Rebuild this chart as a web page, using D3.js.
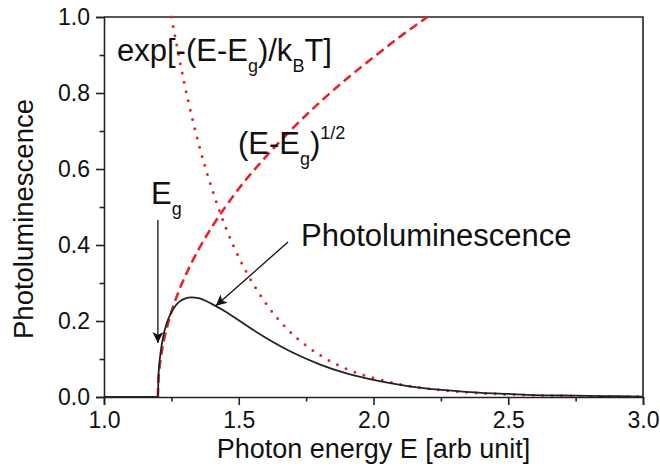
<!DOCTYPE html>
<html>
<head>
<meta charset="utf-8">
<script src="https://cdn.jsdelivr.net/npm/d3@7"></script>
<style>
  body { margin: 0; background: #fff; }
  text { font-family: "Liberation Sans", Arial, Helvetica, sans-serif; fill: #111; }
</style>
</head>
<body>
<svg id="chart" width="660" height="475"></svg>
<script>
// Photoluminescence spectrum (solid black)
const energyPL = [1.00, 1.20, 1.202, 1.205, 1.21, 1.22, 1.23, 1.24, 1.26, 1.28, 1.30, 1.325, 1.35, 1.40, 1.45, 1.50, 1.55, 1.60, 1.70, 1.80, 1.90, 2.00, 2.10, 2.20, 2.30, 2.40, 2.50, 2.60, 2.70, 2.80, 2.90, 3.00];
const valuesPL = [0, 0, 0.054, 0.085, 0.117, 0.160, 0.188, 0.208, 0.235, 0.251, 0.259, 0.262, 0.260, 0.245, 0.225, 0.202, 0.178, 0.156, 0.117, 0.086, 0.062, 0.045, 0.032, 0.022, 0.016, 0.011, 0.008, 0.005, 0.004, 0.003, 0.002, 0.001];

// Density of states (E-Eg)^1/2 (red dashed)
const energySqrt = [1.20, 1.202, 1.205, 1.21, 1.22, 1.24, 1.26, 1.28, 1.30, 1.35, 1.40, 1.45, 1.50, 1.60, 1.70, 1.80, 1.90, 2.00, 2.10, 2.20];
const valuesSqrt = [0, 0.045, 0.071, 0.100, 0.141, 0.200, 0.245, 0.283, 0.316, 0.387, 0.447, 0.500, 0.548, 0.632, 0.707, 0.775, 0.837, 0.894, 0.949, 1.000];

// Boltzmann factor exp[-(E-Eg)/kBT] (red dotted)
const energyExp = [1.25, 1.30, 1.35, 1.40, 1.45, 1.50, 1.60, 1.70, 1.80, 1.90, 2.00, 2.10, 2.20, 2.30, 2.40, 2.50, 2.60, 2.70, 2.80, 2.90, 3.00];
const valuesExp = [1.000, 0.819, 0.670, 0.549, 0.449, 0.368, 0.247, 0.165, 0.111, 0.074, 0.050, 0.033, 0.022, 0.015, 0.010, 0.007, 0.0045, 0.003, 0.002, 0.0014, 0.0009];

const xTicks = [1.0, 1.5, 2.0, 2.5, 3.0];
const xMinorTicks = [1.25, 1.75, 2.25, 2.75];
const yTicks = [0.0, 0.2, 0.4, 0.6, 0.8, 1.0];
const yMinorTicks = [0.1, 0.3, 0.5, 0.7, 0.9];
const bandGap = 1.2;

const svg = d3.select("#chart");
const plotLeft = 104, plotRight = 643, plotTop = 17, plotBottom = 397;

const x = d3.scaleLinear().domain([1.0, 3.0]).range([plotLeft, plotRight]);
const y = d3.scaleLinear().domain([0, 1.0]).range([plotBottom, plotTop]);

const RED = "#e3262b";

const defs = svg.append("defs");
defs.append("clipPath").attr("id", "plot-clip")
  .append("rect").attr("x", plotLeft).attr("y", plotTop - 2)
  .attr("width", plotRight - plotLeft).attr("height", plotBottom - plotTop + 2);

// Axes
const fmt = d3.format(".1f");
svg.append("g").attr("transform", `translate(0,${plotBottom})`)
  .call(d3.axisBottom(x).tickValues(xTicks).tickFormat(fmt).tickSize(8).tickPadding(7));
svg.append("g").attr("transform", `translate(0,${plotBottom})`)
  .call(d3.axisBottom(x).tickValues(xMinorTicks).tickFormat("").tickSize(4.5))
  .select(".domain").remove();
svg.append("g").attr("transform", `translate(${plotLeft},0)`)
  .call(d3.axisLeft(y).tickValues(yTicks).tickFormat(fmt).tickSize(8).tickPadding(6));
svg.append("g").attr("transform", `translate(${plotLeft},0)`)
  .call(d3.axisLeft(y).tickValues(yMinorTicks).tickFormat("").tickSize(4.5))
  .select(".domain").remove();

svg.selectAll(".tick line").attr("stroke", "#222").attr("stroke-width", 1.6);
svg.selectAll(".domain").attr("stroke", "#222").attr("stroke-width", 1.6);
svg.selectAll(".tick text").attr("font-size", 23).attr("fill", "#111")
  .style("font-family", '"Liberation Sans", Arial, sans-serif');

// Frame (top and right edges)
svg.append("path")
  .attr("d", `M${plotLeft},${plotTop}H${plotRight}V${plotBottom}`)
  .attr("fill", "none").attr("stroke", "#222").attr("stroke-width", 1.6);

// Curves
const plot = svg.append("g").attr("clip-path", "url(#plot-clip)");
const line = d3.line().x(d => x(d[0])).y(d => y(d[1])).curve(d3.curveMonotoneX);

plot.append("path")
  .datum(d3.zip(energySqrt, valuesSqrt))
  .attr("d", line).attr("fill", "none")
  .attr("stroke", RED).attr("stroke-width", 2.6)
  .attr("stroke-dasharray", "9,5");

plot.append("path")
  .datum(d3.zip(energyExp, valuesExp))
  .attr("d", line).attr("fill", "none")
  .attr("stroke", RED).attr("stroke-width", 3)
  .attr("stroke-linecap", "round")
  .attr("stroke-dasharray", "0,9.5");

plot.append("path")
  .datum(d3.zip(energyPL, valuesPL))
  .attr("d", line).attr("fill", "none")
  .attr("stroke", "#222").attr("stroke-width", 1.8);

// Arrowhead marker
defs.append("marker").attr("id", "arrowhead")
  .attr("viewBox", "0 0 10 10").attr("refX", 10).attr("refY", 5)
  .attr("markerUnits", "userSpaceOnUse")
  .attr("markerWidth", 16).attr("markerHeight", 11)
  .attr("orient", "auto")
  .append("path").attr("d", "M0,0L10,5L0,10L2.5,5Z").attr("fill", "#111");

// Eg marker arrow
svg.append("line")
  .attr("x1", x(bandGap)).attr("y1", y(0.466))
  .attr("x2", x(bandGap)).attr("y2", y(0.142))
  .attr("stroke", "#111").attr("stroke-width", 1.3)
  .attr("marker-end", "url(#arrowhead)");

// Photoluminescence label arrow
svg.append("line")
  .attr("x1", x(1.683)).attr("y1", y(0.408))
  .attr("x2", x(1.415)).attr("y2", y(0.240))
  .attr("stroke", "#111").attr("stroke-width", 1.3)
  .attr("marker-end", "url(#arrowhead)");

// Annotation text helper: main text with sub/superscript runs
function label(xp, yp, runs, size) {
  const t = svg.append("text").attr("x", xp).attr("y", yp).attr("font-size", size);
  let shift = 0;
  runs.forEach(r => {
    const target = r.sub ? 11 : r.sup ? -15 : 0;
    t.append("tspan")
      .attr("dy", target - shift)
      .attr("font-size", r.sub || r.sup ? 18 : size)
      .text(r.t);
    shift = target;
  });
  return t;
}

label(117, 61, [{t: "exp[-(E-E"}, {t: "g", sub: true}, {t: ")/k"}, {t: "B", sub: true}, {t: "T]"}], 31);
label(238, 154, [{t: "(E-E"}, {t: "g", sub: true}, {t: ")"}, {t: "1/2", sup: true}], 31);
label(151, 204, [{t: "E"}, {t: "g", sub: true}], 31);
label(301, 246, [{t: "Photoluminescence"}], 31);

// Axis titles
svg.append("text")
  .attr("x", x(2.0)).attr("y", 458)
  .attr("text-anchor", "middle").attr("font-size", 27)
  .text("Photon energy E [arb unit]");

svg.append("text")
  .attr("transform", "translate(33,219) rotate(-90)")
  .attr("text-anchor", "middle").attr("font-size", 27.5)
  .text("Photoluminescence");
</script>
</body>
</html>
